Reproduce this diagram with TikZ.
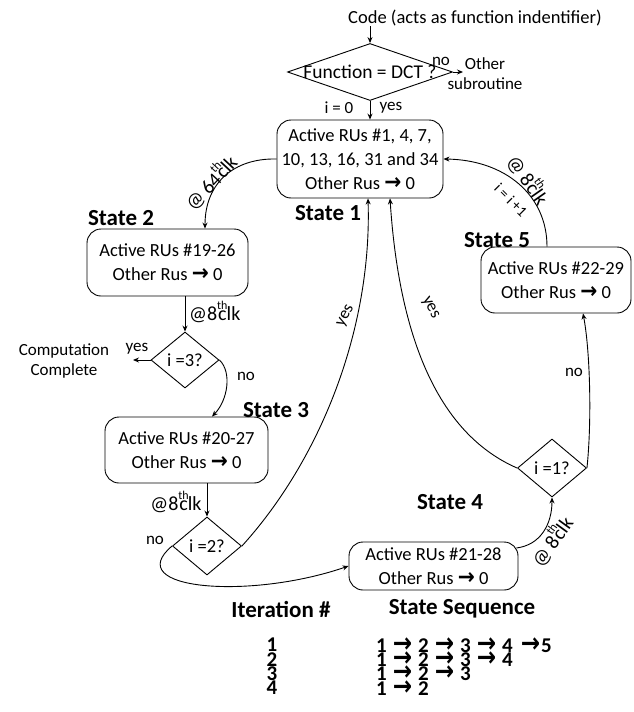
\documentclass[tikz,border=0pt]{standalone}
\usepackage{fontspec}
\setmainfont{Carlito}
\newfontfamily\dejavu{DejaVu Sans}
\usetikzlibrary{shapes.geometric,arrows.meta,calc}
\newcommand\myarr{{\dejavu\bfseries\scalebox{1.1}[1.2]{\symbol{"2192}}}}
\newcommand\tarrow{{\dejavu\bfseries\scalebox{1.1}[1.3]{\symbol{"2192}}}}
\newcommand\tarr{\hspace{6pt}\tarrow\hspace{6pt}}
\newcommand\fA{\fontsize{18.5}{24}\selectfont}
\newcommand\fS{\fontsize{23}{26}\selectfont\bfseries}
\newcommand\fL{\fontsize{17}{20}\selectfont}
\newcommand\fC{\fontsize{20}{22}\selectfont}
\newcommand\fT{\fontsize{21}{14}\selectfont\bfseries}
\newcommand\atclk[1]{@#1\rlap{\raisebox{0.55em}{\fontsize{12}{12}\selectfont th}}\kern0.05em clk}
\begin{document}
\begin{tikzpicture}[x=1pt,y=-1pt,
  every node/.style={font=\fA},
  box/.style={draw, rounded corners=14pt, line width=0.9pt, align=center, inner sep=0pt},
  dia/.style={draw, diamond, line width=0.9pt, inner sep=0pt},
  arr/.style={-{Stealth[length=6pt,width=5pt]}, line width=0.9pt},
  lbl/.style={font=\fL, inner sep=0pt},
  clk/.style={font=\fC, inner sep=0pt},
  st/.style={font=\fS, inner sep=0pt},
  tb/.style={font=\fT, inner sep=0pt}]
\useasboundingbox (0,0) rectangle (634,712);

% top
\node[inner sep=0pt] (code) at (475,18) {Code (acts as function indentifier)};
\node[dia, minimum width=165pt, minimum height=57pt, label={[font=\fontsize{19.5}{22}\selectfont]center:Function = DCT ?}] (d0) at (370,72) {};
\node[lbl, align=center] (other) at (485,74) {Other\\subroutine};
\coordinate (oth) at (463,72);
\node[lbl] (no0) at (441,61) {no};
\node[lbl] (i0) at (339,108) {i = 0};
\node[lbl] (yes0) at (391,108) {yes};

% states
\node[box, minimum width=166pt, minimum height=78pt] (s1) at (360,159) {Active RUs \#1, 4, 7,\\10, 13, 16, 31 and 34\\Other Rus \myarr{} 0};
\node[box, minimum width=161pt, minimum height=67pt] (s2) at (167.5,262.5) {Active RUs \#19-26\\Other Rus \myarr{} 0};
\node[box, minimum width=163pt, minimum height=66pt] (s3) at (186.5,450) {Active RUs \#20-27\\Other Rus \myarr{} 0};
\node[box, minimum width=169pt, minimum height=48pt] (s4) at (433.5,566) {Active RUs \#21-28\\Other Rus \myarr{} 0};
\node[box, minimum width=150pt, minimum height=66pt] (s5) at (556,280) {Active RUs \#22-29\\Other Rus \myarr{} 0};

\node[st] (t1) at (328,213) {State 1};
\node[st] (t2) at (121,218) {State 2};
\node[st] (t3) at (276,410) {State 3};
\node[st] (t4) at (450,502) {State 4};
\node[st] (t5) at (497,240) {State 5};

% decisions
\node[dia, minimum width=68pt, minimum height=56pt, label={center:i =3?}] (d3) at (185,360) {};
\node[dia, minimum width=69pt, minimum height=58pt, label={center:i =2?}] (d2) at (207,546) {};
\node[dia, minimum width=69pt, minimum height=58pt, label={center:i =1?}] (d1) at (552,468) {};

\node[lbl, align=center] (comp) at (64,361) {Computation\\Complete};
\coordinate (cmp) at (133,360);

% connectors
\draw[arr] (code.south -| d0.north) -- (d0.north);
\draw[arr] (d0.east) -- (oth);
\draw[arr] (d0.south) -- (d0.south |- s1.north);

\draw[arr] (s1.west) .. controls (235,158) and (205,182) .. ([xshift=37.5pt]s2.north);
\node[clk, rotate=47] (l64) at (210,182) {@ 64\rlap{\raisebox{0.55em}{\fontsize{12}{12}\selectfont th}}\kern0.05em clk};

\draw[arr] ([xshift=17.5pt]s2.south) -- (d3.north);
\node[clk, anchor=west] (l8a) at (189,312) {\atclk{8}};

\draw[arr] (d3.west) -- (cmp);
\node[lbl] (yes3) at (137,349) {yes};

\draw[arr] (d3.east) .. controls (232,372) and (228,400) .. ([xshift=25.5pt]s3.north);
\node[lbl] (no3) at (246,376) {no};

\draw[arr] ([xshift=20.5pt]s3.south) -- (d2.north);
\node[clk] (l8b) at (176,502) {\atclk{8}};

\draw[arr] (d2.east) .. controls (320,460) and (372,330) .. ([xshift=8pt]s1.south);
\node[lbl, rotate=62] (yes2) at (346,316) {yes};

\draw[arr] (d2.west) .. controls (120,590) and (250,600) .. (s4.west);
\node[lbl] (no2) at (155,540) {no};

\draw[arr] (d1.west) .. controls (430,430) and (398,320) .. ([xshift=30pt]s1.south);
\node[lbl, rotate=-62] (yes1) at (430,308) {yes};

\draw[arr] (d1.east) .. controls (592,420) and (590,350) .. ([xshift=27pt]s5.south);
\node[lbl] (no1) at (574,372) {no};

\draw[arr] ([xshift=-9pt]s5.north) .. controls (547,195) and (505,160) .. (s1.east);
\node[clk, rotate=-55] (l8c) at (529,179) {@ 8\rlap{\raisebox{0.55em}{\fontsize{12}{12}\selectfont th}}\kern0.05em clk};
\node[lbl, font=\fontsize{15}{15}\selectfont, rotate=-45] (inc) at (511,200) {i = i +1};

\draw[arr] ($(s4.east)+(-2,-18)$) .. controls (540,545) and (552,525) .. (d1.south);
\node[clk, rotate=54] (l8d) at (551,541) {@ 8\rlap{\raisebox{0.55em}{\fontsize{12}{12}\selectfont th}}\kern0.05em clk};

% table
\node[st] (ith) at (281,609) {Iteration \#};
\node[st] (ssh) at (462,609) {State Sequence};
\node[tb] (n1) at (272,645) {1};
\node[tb] (n2) at (272,659.5) {2};
\node[tb] (n3) at (272,673.5) {3};
\node[tb] (n4) at (272,688) {4};
\node[tb, anchor=west] (q1) at (376,645) {1\tarr 2\tarr 3\tarr 4\hspace{8pt}\tarrow\hspace{1pt}5};
\node[tb, anchor=west] (q2) at (376,659.5) {1\tarr 2\tarr 3\tarr 4};
\node[tb, anchor=west] (q3) at (376,673.5) {1\tarr 2\tarr 3};
\node[tb, anchor=west] (q4) at (376,688) {1\tarr 2};
\end{tikzpicture}
\end{document}
